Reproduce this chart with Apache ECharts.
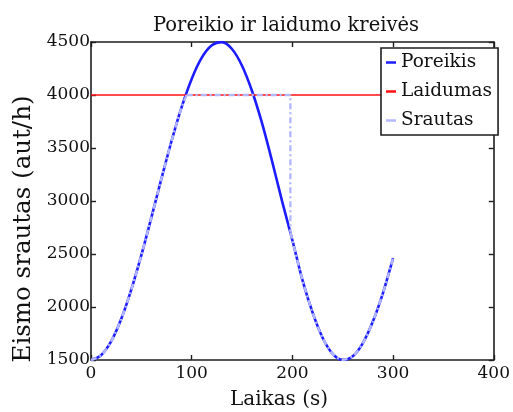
<!DOCTYPE html>
<html>
<head>
<meta charset="utf-8">
<script src="https://cdn.jsdelivr.net/npm/echarts@6/dist/echarts.min.js"></script>
<style>
  html, body { margin: 0; padding: 0; background: #ffffff; }
  #chart { width: 513px; height: 412px; }
</style>
</head>
<body>
<div id="chart"></div>
<script>
// Demand curve (Poreikis), veh/h against time in seconds
const timeSec = [0, 10, 20, 30, 40, 50, 60, 70, 80, 90, 100, 110, 120, 130, 140, 150, 160, 170, 180, 190, 200, 210, 220, 230, 240, 250, 260, 270, 280, 290, 300];
const demandValues = [1500, 1545, 1675, 1886, 2163, 2489, 2846, 3213, 3566, 3885, 4152, 4352, 4469, 4499, 4434, 4276, 4035, 3729, 3369, 2989, 2630, 2254, 1949, 1710, 1558, 1501, 1536, 1660, 1865, 2134, 2461];

// Capacity (Laidumas)
const capacityTime = [0, 400];
const capacityValues = [4000, 4000];

// Served flow (Srautas): follows demand, is held at capacity, then drops
// back onto the demand curve once the queue has cleared
const flowRiseTime = [0, 10, 20, 30, 40, 50, 60, 70, 80, 90, 95];
const flowRiseValues = [1500, 1545, 1675, 1886, 2163, 2489, 2846, 3213, 3566, 3885, 4000];
const flowCapTime = [95, 198, 198];
const flowCapValues = [4000, 4000, 2702];
const flowFallTime = [198, 200, 210, 220, 230, 240, 250, 260, 270, 280, 290, 300];
const flowFallValues = [2702, 2630, 2254, 1949, 1710, 1558, 1501, 1536, 1660, 1865, 2134, 2461];

// Axis ticks
const xTicks = { min: 0, max: 400, step: 100 };
const yTicks = { min: 1500, max: 4500, step: 500 };

const pairs = (xs, ys) => xs.map((x, i) => [x, ys[i]]);

const FONT = 'DejaVu Serif';
const AXIS_COLOR = '#1e1e1e';
const FLOW_COLOR = '#b4b8ff';

const chart = echarts.init(document.getElementById('chart'), null, { renderer: 'canvas' });

function baseAxis(extra) {
  return Object.assign({
    type: 'value',
    splitLine: { show: false },
    axisLine: { show: true, onZero: false, lineStyle: { color: AXIS_COLOR, width: 1.6 } },
    axisTick: { show: true, inside: true, length: 5, lineStyle: { color: AXIS_COLOR, width: 1.4 } },
  }, extra);
}

const plainNumber = v => String(v);

function flowSeries(xs, ys, smooth) {
  return {
    name: 'Srautas', type: 'line', xAxisIndex: 0, yAxisIndex: 0,
    data: pairs(xs, ys),
    showSymbol: false, symbol: 'none',
    smooth: smooth,
    color: FLOW_COLOR,
    lineStyle: { color: FLOW_COLOR, width: 2.4, type: [6, 3, 2, 3] },
    z: 4
  };
}

chart.setOption({
  animation: false,
  backgroundColor: '#ffffff',
  grid: { left: 91, right: 12, top: 42, bottom: 52 },
  xAxis: [
    baseAxis({
      position: 'bottom', min: xTicks.min, max: xTicks.max, interval: xTicks.step,
      axisLabel: { show: true, margin: 5, color: '#111', fontFamily: FONT, fontSize: 17, formatter: plainNumber }
    }),
    baseAxis({
      position: 'top', min: xTicks.min, max: xTicks.max, interval: xTicks.step,
      axisLabel: { show: false }
    })
  ],
  yAxis: [
    baseAxis({
      position: 'left', min: yTicks.min, max: yTicks.max, interval: yTicks.step,
      axisLabel: { show: true, margin: 1, color: '#111', fontFamily: FONT, fontSize: 17, formatter: plainNumber }
    }),
    baseAxis({
      position: 'right', min: yTicks.min, max: yTicks.max, interval: yTicks.step,
      axisLabel: { show: false }
    })
  ],
  legend: {
    orient: 'vertical',
    left: 381,
    top: 48,
    padding: [4, 6, 4, 5],
    itemGap: 8,
    itemWidth: 10,
    itemHeight: 2.5,
    icon: 'rect',
    backgroundColor: '#ffffff',
    borderColor: AXIS_COLOR,
    borderWidth: 1.6,
    borderRadius: 0,
    textStyle: { fontFamily: FONT, fontSize: 18.5, lineHeight: 21, color: '#111', padding: [0, 0, 0, 0] },
    data: ['Poreikis', 'Laidumas', 'Srautas']
  },
  graphic: [
    {
      type: 'text', x: 286, y: 26,
      style: { text: 'Poreikio ir laidumo kreivės', fontFamily: FONT, fontSize: 19.5, fill: '#111', align: 'center', verticalAlign: 'middle' }
    },
    {
      type: 'text', x: 279, y: 400,
      style: { text: 'Laikas (s)', fontFamily: FONT, fontSize: 20, fill: '#111', align: 'center', verticalAlign: 'middle' }
    },
    {
      type: 'text', x: 24, y: 229, rotation: Math.PI / 2,
      style: { text: 'Eismo srautas (aut/h)', fontFamily: FONT, fontSize: 24.5, fill: '#111', align: 'center', verticalAlign: 'middle' }
    }
  ],
  series: [
    {
      name: 'Poreikis', type: 'line', xAxisIndex: 0, yAxisIndex: 0,
      data: pairs(timeSec, demandValues),
      showSymbol: false, symbol: 'none',
      smooth: 0.3,
      color: '#1c1cff',
      lineStyle: { color: '#1c1cff', width: 2.6 },
      z: 2
    },
    {
      name: 'Laidumas', type: 'line', xAxisIndex: 0, yAxisIndex: 0,
      data: pairs(capacityTime, capacityValues),
      showSymbol: false, symbol: 'none',
      color: '#ff1010',
      lineStyle: { color: '#ff1010', width: 1.6 },
      z: 3
    },
    flowSeries(flowRiseTime, flowRiseValues, 0.3),
    flowSeries(flowCapTime, flowCapValues, false),
    flowSeries(flowFallTime, flowFallValues, 0.3)
  ]
});
</script>
</body>
</html>
